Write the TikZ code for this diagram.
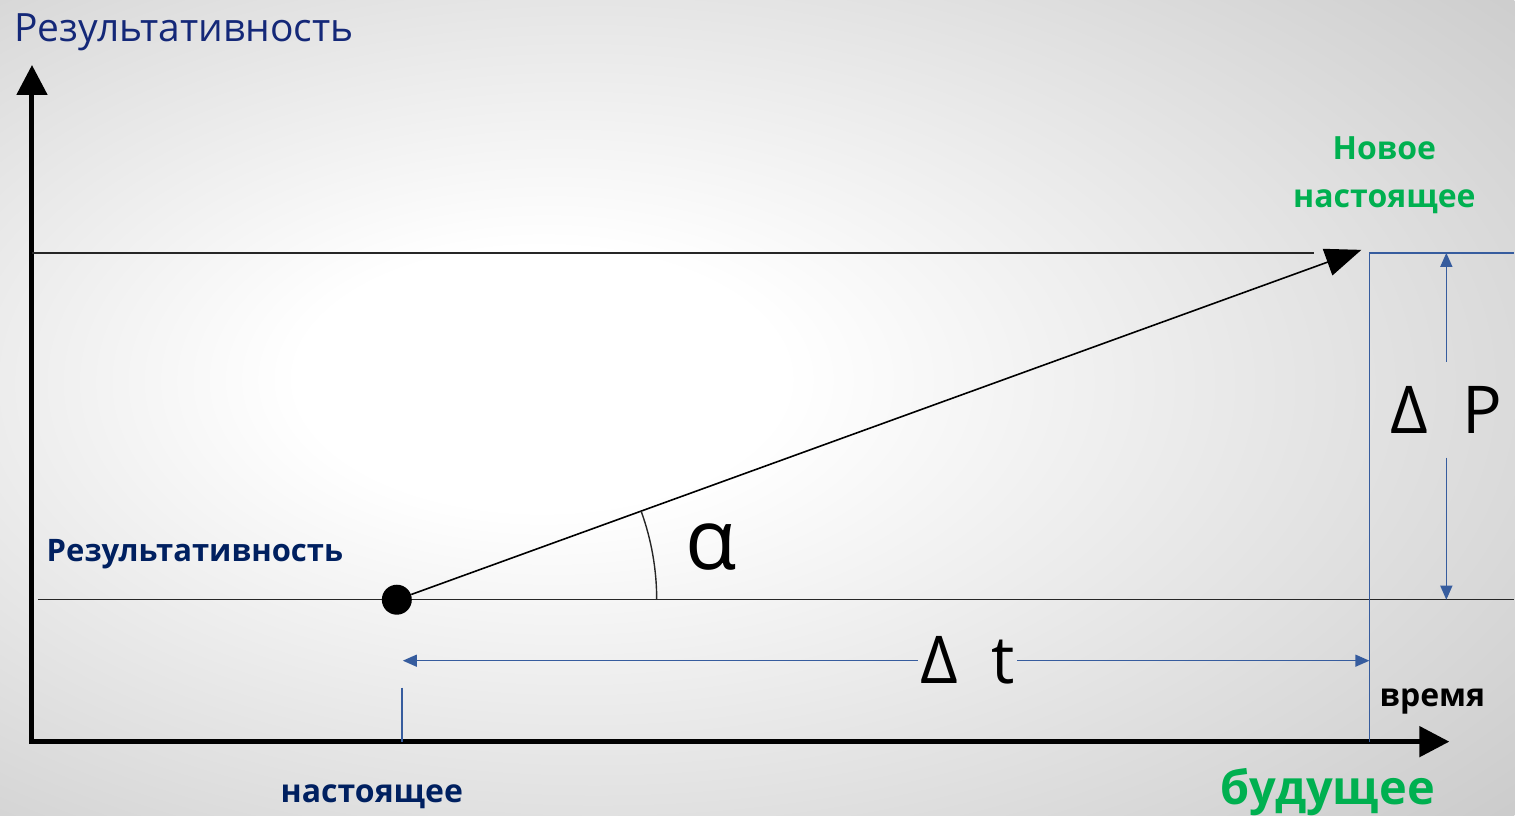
\documentclass[tikz,border=0pt]{standalone}
\usepackage{fontspec}
\setmainfont{Open Sans}
\usetikzlibrary{arrows.meta, positioning}

\definecolor{navy}{RGB}{20,40,120}
\definecolor{darknavy}{RGB}{0,32,96}
\definecolor{officegreen}{RGB}{0,176,80}
\definecolor{dimblue}{RGB}{54,92,158}
\pgfdeclareradialshading{glow}{\pgfpoint{-8bp}{2bp}}{color(0bp)=(white); color(8bp)=(white); color(50bp)=(gray!55); color(75bp)=(gray!72)}

\begin{document}
\begin{tikzpicture}[x=0.5pt, y=0.5pt,
    axis/.style={line width=2.5pt, {Triangle[length=15pt, width=15pt]}-{Triangle[length=15pt, width=15pt]}},
    thinline/.style={line width=0.7pt, black!85},
    dim/.style={dimblue, line width=0.7pt},
    dimarrow/.style={dim, -{Triangle[length=7pt, width=6pt]}},
    title/.style={font=\fontsize{19.5}{22}\selectfont, text=navy},
    level/.style={font=\bfseries\fontsize{15.5}{18}\selectfont, text=darknavy},
    caption/.style={font=\bfseries\fontsize{16}{24}\selectfont},
    greek/.style={font=\fontsize{33}{38}\selectfont}]

    % background
    \shade[shading=glow] (0,0) rectangle (1515,816);

    % axes
    \coordinate (O) at (32,74);
    \coordinate (ytop) at (32,751);
    \coordinate (xend) at (1450,74);
    \draw[axis] (ytop) -- (O) -- (xend);

    % levels
    \draw[thinline] (32,563) -- (1315,563);
    \draw[thinline] (38,216) -- (1515,216);

    \node[circle, fill=black, inner sep=0pt, minimum size=15pt] (now) at (397,216) {};
    \coordinate (newnow) at (1362,566);
    \draw[line width=0.8pt, -{Triangle[length=18pt, width=14pt]}] (now) -- (newnow);
    \draw[thinline] (657,216) arc[start angle=0, end angle=19.9, radius=260];
    \node[font=\fontsize{42}{46}\selectfont, anchor=base] (alpha) at (711,246) {α};

    % guides
    \draw[dim] (1370,563) -- (1515,563);
    \draw[dim] (1370,563) -- (1370,74);
    \draw[dim] (402,128) -- (402,74);

    % delta P
    \coordinate (dPtop) at (1447,563);
    \coordinate (dPbot) at (1447,216);
    \node[greek, inner ysep=12pt] (dP) at (1447,406) {Δ\hspace{17pt}P};
    \draw[dimarrow] (dP) -- (dPtop);
    \draw[dimarrow] (dP) -- (dPbot);

    % delta t
    \coordinate (dtleft) at (403,155);
    \coordinate (dtright) at (1370,155);
    \node[greek, inner xsep=1pt] (dt) at (968,155) {Δ\hspace{17pt}t};
    \draw[dimarrow] (dt) -- (dtleft);
    \draw[dimarrow] (dt) -- (dtright);

    % labels
    \node[title, anchor=base] (ylabel) at (184,774) {Результативность};
    \node[level, anchor=base] (levellabel) at (195,254) {Результативность};
    \node[caption, text=darknavy, anchor=base] (present) at (372,13) {настоящее};
    \node[caption, anchor=base] (time) at (1433,109) {время};
    \node[font=\bfseries\fontsize{23.5}{28}\selectfont, text=officegreen, anchor=base] (future) at (1328,11) {будущее};
    \node[caption, text=officegreen, align=center] (newlabel) at (1385,641) {Новое\\настоящее};
\end{tikzpicture}
\end{document}
